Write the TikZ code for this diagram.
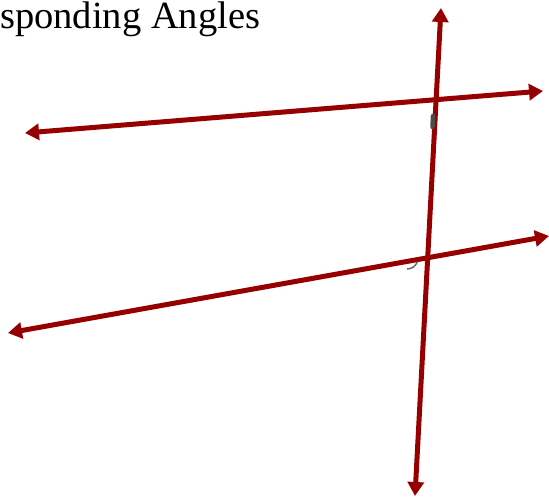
\documentclass[tikz,border=0pt]{standalone}
\usepackage{fontspec}
\setmainfont{Liberation Serif}
\usetikzlibrary{arrows.meta}
\definecolor{linered}{RGB}{150,0,0}
\tikzset{
    parline/.style={draw=linered, line width=5pt, {Triangle[length=14pt,width=16pt]}-{Triangle[length=14pt,width=16pt]}},
    anglemark/.style={draw=black!60, line width=1.5pt}
}
\begin{document}
\begin{tikzpicture}[x=1pt, y=-1pt]
    \useasboundingbox (0,0) rectangle (549,497);
    % title
    \node[anchor=base west, inner sep=0pt, font=\fontsize{38.5}{44}\selectfont] (title) at (0,29) {sponding Angles};
    % end points
    \coordinate (l1a) at (25,133);
    \coordinate (l1b) at (543,91);
    \coordinate (l2a) at (8,333);
    \coordinate (l2b) at (549,236);
    \coordinate (ta) at (441,8);
    \coordinate (tb) at (415,496);
    % lines
    \draw[parline] (l1a) -- (l1b);
    \draw[parline] (l2a) -- (l2b);
    \draw[parline] (tb) -- (ta);
    % marks
    \draw[draw=black!70, line width=4.5pt, line cap=round] (433,116) -- (432.5,127);
    \draw[anglemark] (407,269) arc[start angle=-90, end angle=-20, radius=11pt];
\end{tikzpicture}
\end{document}
